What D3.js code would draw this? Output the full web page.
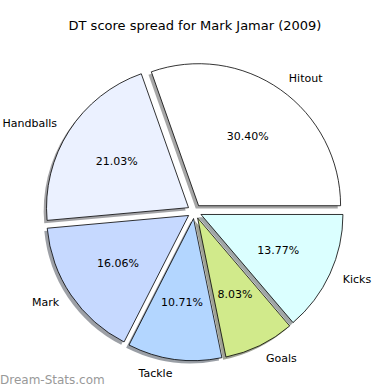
<!DOCTYPE html>
<html>
<head>
<meta charset="utf-8">
<script src="https://cdn.jsdelivr.net/npm/d3@7"></script>
<style>
  body { margin: 0; background: #fff; }
  text { font-family: "DejaVu Sans", sans-serif; fill: #000; }
</style>
</head>
<body>
<div id="chart"></div>
<script>
const labels = ["Hitout", "Handballs", "Mark", "Tackle", "Goals", "Kicks"];
const values = [30.40, 21.03, 16.06, 10.71, 8.03, 13.77];
const colors = ["#ffffff", "#ebf1ff", "#c6d9ff", "#b3d6ff", "#d1ea8b", "#dbffff"];

const width = 390,
  height = 390;
const cx = 194.5,
  cy = 211.5,
  radius = 142;
const explode = 0.05 * radius; // same explode for every wedge
const shadowOff = 0.02 * radius;

const svg = d3.select("#chart").append("svg").attr("width", width).attr("height", height);

// matplotlib style: start at 3 o'clock, go counter clockwise
const pie = d3
  .pie()
  .sort(null)
  .startAngle(Math.PI / 2)
  .endAngle(Math.PI / 2 - 2 * Math.PI);

const arc = d3.arc().innerRadius(0).outerRadius(radius);
const total = d3.sum(values);

const arcs = pie(values).map((d, i) => {
  const mid = (d.startAngle + d.endAngle) / 2;
  const dx = Math.sin(mid),
    dy = -Math.cos(mid);
  return { ...d, i, dx, dy, x: cx + explode * dx, y: cy + explode * dy };
});

// shadows go under all wedges
svg
  .append("g")
  .selectAll("path")
  .data(arcs)
  .join("path")
  .attr("d", arc)
  .attr("transform", d => `translate(${d.x - shadowOff},${d.y + shadowOff})`)
  .attr("fill", d => {
    const c = d3.rgb(colors[d.i]);
    return d3.rgb(c.r * 0.3, c.g * 0.3, c.b * 0.3);
  })
  .attr("fill-opacity", 0.5);

svg
  .append("g")
  .selectAll("path")
  .data(arcs)
  .join("path")
  .attr("d", arc)
  .attr("transform", d => `translate(${d.x},${d.y})`)
  .attr("fill", d => colors[d.i])
  .attr("stroke", "#000")
  .attr("stroke-width", 0.8)
  .attr("stroke-linejoin", "miter");

// labels at 1.1 r
svg
  .append("g")
  .selectAll("text")
  .data(arcs)
  .join("text")
  .attr("x", d => d.x + 1.1 * radius * d.dx)
  .attr("y", d => d.y + 1.1 * radius * d.dy)
  .attr("text-anchor", d => (d.dx > 0 ? "start" : "end"))
  .attr("dominant-baseline", "central")
  .attr("font-size", "11px")
  .text(d => labels[d.i]);

// percentages at 0.6 r
svg
  .append("g")
  .selectAll("text")
  .data(arcs)
  .join("text")
  .attr("x", d => d.x + 0.6 * radius * d.dx)
  .attr("y", d => d.y + 0.6 * radius * d.dy)
  .attr("text-anchor", "middle")
  .attr("dominant-baseline", "central")
  .attr("font-size", "11px")
  .text(d => ((d.value / total) * 100).toFixed(2) + "%");

svg
  .append("text")
  .attr("x", 195)
  .attr("y", 25)
  .attr("text-anchor", "middle")
  .attr("dominant-baseline", "central")
  .attr("font-size", "13px")
  .text("DT score spread for Mark Jamar (2009)");

svg
  .append("text")
  .attr("x", 0)
  .attr("y", 384)
  .attr("font-size", "12px")
  .style("fill", "#999")
  .text("Dream-Stats.com");
</script>
</body>
</html>
